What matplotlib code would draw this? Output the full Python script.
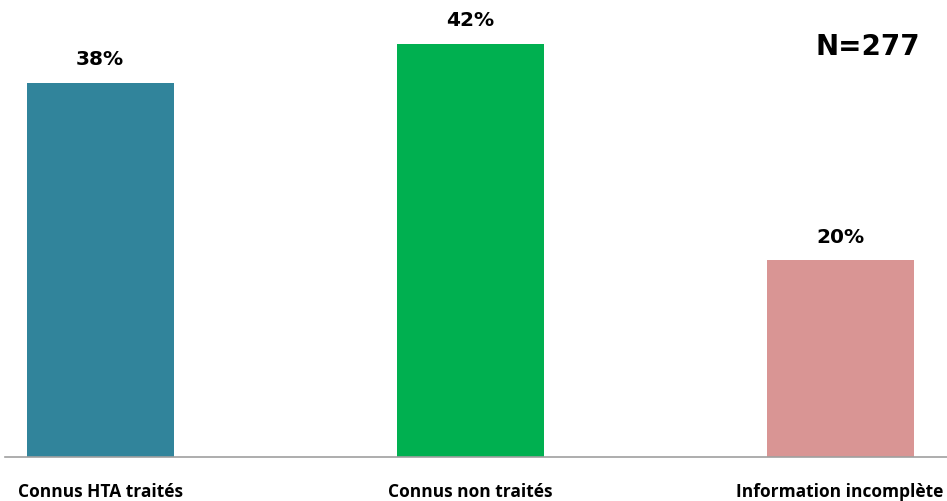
import matplotlib
matplotlib.use("Agg")
import matplotlib.pyplot as plt

categories = ["Connus HTA traités", "Connus non traités", "Information incomplète"]
values = [38, 42, 20]
labels = ["38%", "42%", "20%"]
colors = ["#31849B", "#00B050", "#D99594"]
note = "N=277"

W, H = 947, 502
fig = plt.figure(figsize=(W / 100, H / 100), dpi=100)
base_y = 458
x_left = 5
ax = fig.add_axes([x_left / W, 1 - base_y / H, (W - x_left) / W, base_y / H])

xs = list(range(len(categories)))
ax.bar(xs, values, width=0.397, color=colors)
ax.set_xlim(-0.257, -0.257 + (W - x_left) / 370)
ax.set_ylim(0, 458 / 9.84)

for s in ["top", "right", "left"]:
    ax.spines[s].set_visible(False)
ax.spines["bottom"].set_color("#A0A0A0")
ax.spines["bottom"].set_linewidth(1.2)
ax.set_yticks([])
ax.set_xticks(xs)
ax.set_xticklabels(categories, fontsize=12.5, fontweight="bold",
                   family=["Open Sans", "DejaVu Sans"])
ax.tick_params(axis="x", length=0, pad=18)

for x, v, t in zip(xs, values, labels):
    ax.annotate(t, (x, v), xytext=(0, 10.5), textcoords="offset points",
                ha="center", va="bottom", fontsize=14.5, fontweight="bold",
                family=["DejaVu Sans"])

fig.text(868 / W, 1 - 47 / H, note, ha="center", va="center", fontsize=20,
         fontweight="bold", family=["DejaVu Sans"])

fig.savefig("out.png", dpi=100)
